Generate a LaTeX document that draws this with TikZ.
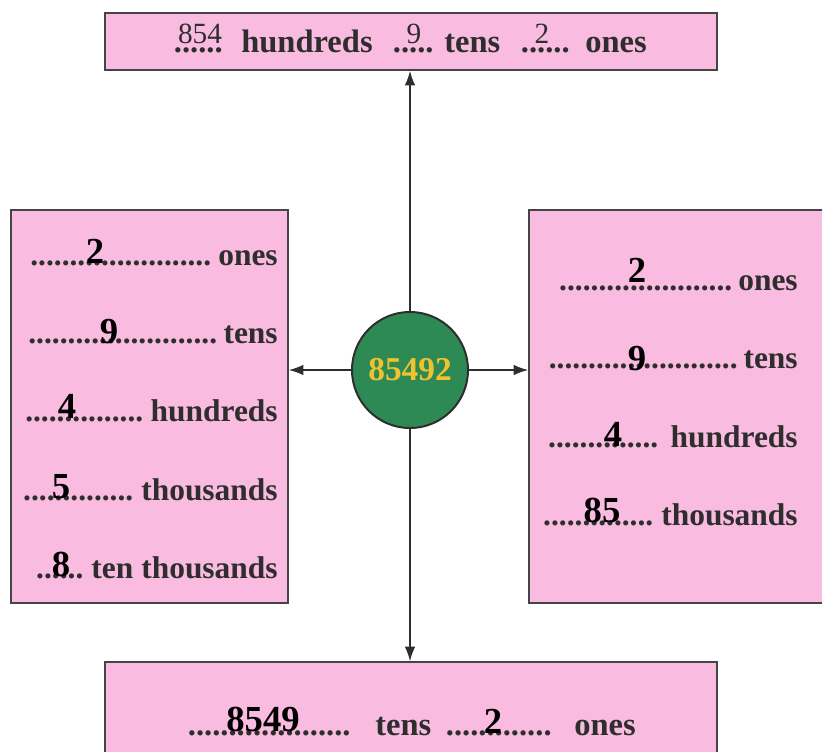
\documentclass[tikz,border=0pt]{standalone}
\usepackage{fontspec}
\setmainfont{Liberation Serif}
\usetikzlibrary{arrows.meta}
\definecolor{boxpink}{HTML}{F9BBE0}
\definecolor{boxline}{HTML}{454545}
\definecolor{circgreen}{HTML}{2E8A55}
\definecolor{gold}{HTML}{F2C12E}
\definecolor{labgray}{HTML}{2E2E2E}
\newdimen\px \px=0.75pt
\newcommand\dts[1]{\hbox to #1\px{\cleaders\hbox{.}\hfill}}
\tikzset{
  box/.style={draw=boxline, line width=1.2pt, fill=boxpink, rectangle, inner sep=0pt},
  conn/.style={draw=labgray, line width=1.1pt, -{Latex[length=11pt,width=8pt]}},
  lab/.style={inner sep=0pt, text=labgray, font=\fontsize{23.6}{28}\selectfont\bfseries},
  tlab/.style={inner sep=0pt, text=labgray, font=\fontsize{24.4}{28}\selectfont\bfseries},
  num/.style={inner sep=0pt, text=black, font=\fontsize{27.5}{30}\selectfont\bfseries, anchor=base},
  tnum/.style={inner sep=0pt, text=labgray, font=\fontsize{22}{26}\selectfont, anchor=base},
}
\begin{document}
\begin{tikzpicture}[x=0.75pt,y=-0.75pt]
\useasboundingbox (0,0) rectangle (822,751);
% boxes
\node[box, minimum width=459pt, minimum height=42.75pt] (top) at (411,41.5) {};
\node[box, minimum width=207.75pt, minimum height=294.75pt] (left) at (149.5,406.5) {};
\node[box, minimum width=221.25pt, minimum height=294.75pt] (right) at (676.5,406.5) {};
\node[box, minimum width=459pt, minimum height=73.5pt] (bottom) at (411,711) {};
% centre circle
\node[circle, draw=labgray, line width=1.5pt, fill=circgreen, minimum size=87pt, inner sep=0pt,
      text=gold, font=\fontsize{25}{28}\selectfont\bfseries] (c) at (410,370) {85492};
% connectors
\draw[conn] (c.north) -- (c.north |- top.south);
\draw[conn] (c.south) -- (c.south |- bottom.north);
\draw[conn] (c.west) -- (c.west -| left.east);
\draw[conn] (c.east) -- (c.east -| right.west);
% top box
\node[tlab, anchor=base west] (td1) at (173,52) {\dts{50}};
\node[tnum] (tn1) at (200,43) {854};
\node[tlab, anchor=base west] (tl1) at (241,52) {hundreds};
\node[tlab, anchor=base west] (td2) at (390,52) {\dts{46}};
\node[tnum] (tn2) at (414,43) {9};
\node[tlab, anchor=base west] (tl2) at (444,52) {tens};
\node[tlab, anchor=base west] (td3) at (520,52) {\dts{50}};
\node[tnum] (tn3) at (542,43) {2};
\node[tlab, anchor=base west] (tl3) at (585,52) {ones};
% left box
\node[lab, anchor=base west] (ld1) at (29,265) {\dts{183}};
\node[lab, anchor=base east] (ll1) at (278,265) {ones};
\node[num] (ln1) at (95,263) {2};
\node[lab, anchor=base west] (ld2) at (27,343) {\dts{191}};
\node[lab, anchor=base east] (ll2) at (278,343) {tens};
\node[num] (ln2) at (109,343) {9};
\node[lab, anchor=base west] (ld3) at (25,421) {\dts{118}};
\node[lab, anchor=base east] (ll3) at (278,421) {hundreds};
\node[num] (ln3) at (67,418) {4};
\node[lab, anchor=base west] (ld4) at (21,500) {\dts{114}};
\node[lab, anchor=base east] (ll4) at (278,500) {thousands};
\node[num] (ln4) at (61,498) {5};
\node[lab, anchor=base west] (ld5) at (32,578) {\dts{55}};
\node[lab, anchor=base east] (ll5) at (278,578) {ten thousands};
\node[num] (ln5) at (61,576) {8};
% right box
\node[lab, anchor=base west] (rd1) at (557,290) {\dts{177}};
\node[lab, anchor=base east] (rl1) at (798,290) {ones};
\node[num] (rn1) at (637,282) {2};
\node[lab, anchor=base west] (rd2) at (546,368) {\dts{194}};
\node[lab, anchor=base east] (rl2) at (798,368) {tens};
\node[num] (rn2) at (637,370) {9};
\node[lab, anchor=base west] (rd3) at (545,447) {\dts{116}};
\node[lab, anchor=base east] (rl3) at (798,447) {hundreds};
\node[num] (rn3) at (613,446) {4};
\node[lab, anchor=base west] (rd4) at (541,525) {\dts{114}};
\node[lab, anchor=base east] (rl4) at (798,525) {thousands};
\node[num] (rn4) at (602,522) {85};
% bottom box
\node[tlab, anchor=base west] (bd1) at (185,735) {\dts{168}};
\node[num] (bn1) at (263,731) {8549};
\node[tlab, anchor=base west] (bl1) at (375,735) {tens};
\node[tlab, anchor=base west] (bd2) at (442,735) {\dts{113}};
\node[num] (bn2) at (493,733) {2};
\node[tlab, anchor=base west] (bl2) at (574,735) {ones};
\end{tikzpicture}
\end{document}
